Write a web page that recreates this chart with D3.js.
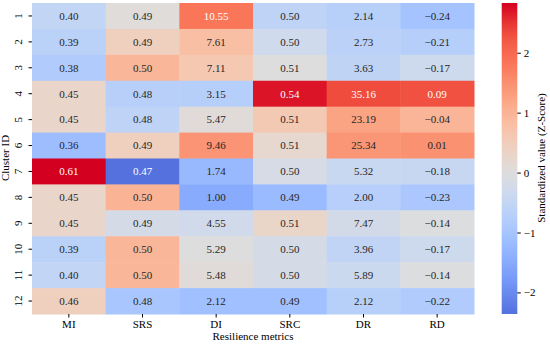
<!DOCTYPE html>
<html>
<head>
<meta charset="utf-8">
<script src="https://cdn.jsdelivr.net/npm/d3@7"></script>
<style>
  body { margin: 0; background: #fff; }
  svg text { font-family: "Liberation Serif", "Times New Roman", serif; }
</style>
</head>
<body>
<svg id="chart" width="550" height="345"></svg>
<script>
// categories
var clusters = ["1", "2", "3", "4", "5", "6", "7", "8", "9", "10", "11", "12"];
var metrics = ["MI", "SRS", "DI", "SRC", "DR", "RD"];

// annotated (raw) values per metric
var valMI  = [0.40, 0.39, 0.38, 0.45, 0.45, 0.36, 0.61, 0.45, 0.45, 0.39, 0.40, 0.46];
var valSRS = [0.49, 0.49, 0.50, 0.48, 0.48, 0.49, 0.47, 0.50, 0.49, 0.50, 0.50, 0.48];
var valDI  = [10.55, 7.61, 7.11, 3.15, 5.47, 9.46, 1.74, 1.00, 4.55, 5.29, 5.48, 2.12];
var valSRC = [0.50, 0.50, 0.51, 0.54, 0.51, 0.51, 0.50, 0.49, 0.51, 0.50, 0.50, 0.49];
var valDR  = [2.14, 2.73, 3.63, 35.16, 23.19, 25.34, 5.32, 2.00, 7.47, 3.96, 5.89, 2.12];
var valRD  = [-0.24, -0.21, -0.17, 0.09, -0.04, 0.01, -0.18, -0.23, -0.14, -0.17, -0.14, -0.22];

// z-scores per metric
var zMI  = [-0.52, -0.68, -0.84, 0.28, 0.28, -1.16, 2.83, 0.28, 0.28, -0.68, -0.52, 0.44];
var zSRS = [0.05, 0.45, 0.95, -0.70, -0.60, 0.45, -2.36, 1.00, -0.20, 0.95, 0.95, -0.95];
var zDI  = [1.82, 0.80, 0.63, -0.74, 0.06, 1.44, -1.23, -1.49, -0.26, 0.00, 0.06, -1.10];
var zSRC = [-0.60, -0.30, 0.00, 2.70, 0.60, 0.20, -0.15, -1.20, 0.30, -0.20, -0.20, -1.10];
var zDR  = [-0.72, -0.66, -0.58, 2.33, 1.23, 1.43, -0.42, -0.73, -0.23, -0.55, -0.37, -0.72];
var zRD  = [-1.04, -0.74, -0.34, 2.29, 0.97, 1.48, -0.44, -0.94, -0.03, -0.34, -0.03, -0.84];

var cbTicks = [-2, -1, 0, 1, 2];

var vals = [valMI, valSRS, valDI, valSRC, valDR, valRD];
var zs = [zMI, zSRS, zDI, zSRC, zDR, zRD];

// coolwarm-like diverging map (warm end a bit brighter, as in the picture)
var cw = [[59,76,192],[68,90,204],[77,104,215],[87,117,225],[98,130,234],[108,142,241],[119,154,247],[130,165,251],
  [141,176,254],[152,185,255],[163,194,255],[174,201,253],[184,208,249],[194,213,244],[204,217,238],[213,219,230],
  [221,221,221],[229,216,209],[236,211,197],[242,204,185],[247,196,172],[250,186,158],[251,175,145],[251,163,131],
  [250,150,118],[250,136,104],[250,122,92],[248,108,82],[244,96,74],[240,80,64],[232,55,52],[222,28,42],[212,0,32]];
var coolwarm = d3.scaleLinear()
  .domain(cw.map(function(d, i) { return i / (cw.length - 1); }))
  .range(cw.map(function(c) { return d3.rgb(c[0], c[1], c[2]); }))
  .clamp(true);

var cells = [];
metrics.forEach(function(m, j) {
  clusters.forEach(function(c, i) {
    cells.push({ metric: m, cluster: c, v: vals[j][i], z: zs[j][i] });
  });
});

var zmin = d3.min(cells, function(d) { return d.z; });
var zmax = d3.max(cells, function(d) { return d.z; });
var vrange = Math.max(zmax, -zmin);
function color(z) { return coolwarm(0.5 + z / (2 * vrange)); }

function lum(col) {
  var c = d3.rgb(col);
  var f = function(v) { v /= 255; return v <= 0.03928 ? v / 12.92 : Math.pow((v + 0.055) / 1.055, 2.4); };
  return 0.2126 * f(c.r) + 0.7152 * f(c.g) + 0.0722 * f(c.b);
}

var fmt = function(v) { return d3.format(".2f")(v).replace("-", "\u2212"); };

var svg = d3.select("#chart");

var x = d3.scaleBand().domain(metrics).range([32, 474]);
var y = d3.scaleBand().domain(clusters).range([3, 314]);

svg.append("g").selectAll("rect")
  .data(cells).enter().append("rect")
  .attr("x", function(d) { return x(d.metric); })
  .attr("y", function(d) { return y(d.cluster); })
  .attr("width", x.bandwidth() + 0.5)
  .attr("height", y.bandwidth() + 0.5)
  .attr("fill", function(d) { return color(d.z); });

svg.append("g").selectAll("text")
  .data(cells).enter().append("text")
  .attr("x", function(d) { return x(d.metric) + x.bandwidth() / 2; })
  .attr("y", function(d) { return y(d.cluster) + y.bandwidth() / 2; })
  .attr("dy", "0.35em")
  .attr("text-anchor", "middle")
  .attr("font-size", 11)
  .attr("fill", function(d) { return lum(color(d.z)) > 0.408 ? "#262626" : "#ffffff"; })
  .text(function(d) { return fmt(d.v); });

// axes
var xAxis = svg.append("g")
  .attr("transform", "translate(0,314)")
  .call(d3.axisBottom(x).tickSize(3.5).tickPadding(3));
xAxis.select(".domain").remove();
xAxis.selectAll("text").attr("font-size", 11).attr("fill", "#000");

var yAxis = svg.append("g")
  .attr("transform", "translate(32,0)")
  .call(d3.axisLeft(y).tickSize(3.5).tickPadding(3));
yAxis.select(".domain").remove();
yAxis.selectAll("text")
  .attr("font-size", 11).attr("fill", "#000")
  .attr("x", null).attr("dy", null)
  .attr("text-anchor", "middle")
  .attr("transform", "translate(-10,0) rotate(-90)");

svg.append("text")
  .attr("transform", "translate(9,158) rotate(-90)")
  .attr("text-anchor", "middle")
  .attr("font-size", 11)
  .text("Cluster ID");

svg.append("text")
  .attr("x", 253).attr("y", 340)
  .attr("text-anchor", "middle")
  .attr("font-size", 11)
  .text("Resilience metrics");

// colorbar
var cb = d3.scaleLinear().domain([zmin, zmax]).range([314, 3]);
var grad = svg.append("defs").append("linearGradient")
  .attr("id", "cbgrad").attr("x1", 0).attr("y1", 1).attr("x2", 0).attr("y2", 0);
d3.range(0, 1.0001, 0.02).forEach(function(t) {
  grad.append("stop").attr("offset", t).attr("stop-color", color(zmin + t * (zmax - zmin)));
});
svg.append("rect")
  .attr("x", 501.7).attr("y", cb(zmax))
  .attr("width", 15.6).attr("height", cb(zmin) - cb(zmax))
  .attr("fill", "url(#cbgrad)");

var cbAxis = svg.append("g")
  .attr("transform", "translate(517.3,0)")
  .call(d3.axisRight(cb).tickValues(cbTicks).tickSize(3.5).tickPadding(3)
    .tickFormat(function(d) { return String(d).replace("-", "\u2212"); }));
cbAxis.select(".domain").remove();
cbAxis.selectAll("text").attr("font-size", 11).attr("fill", "#000");

svg.append("text")
  .attr("transform", "translate(545,158) rotate(-90)")
  .attr("text-anchor", "middle")
  .attr("font-size", 11)
  .text("Standardized value (Z-Score)");
</script>
</body>
</html>
